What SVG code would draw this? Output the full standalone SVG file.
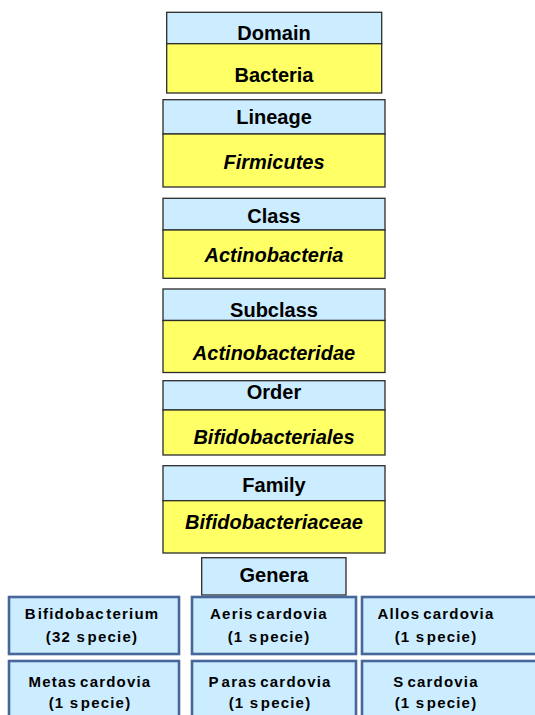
<svg xmlns="http://www.w3.org/2000/svg" width="535" height="715" viewBox="0 0 535 715">
<style>
.hd{fill:#CCECFF;stroke:#2b2b2b;stroke-width:1.3}
.bd{fill:#FFFF66;stroke:#2b2b2b;stroke-width:1.3}
.gn{fill:#CCECFF;stroke:#47679A;stroke-width:2.6}
.t{font-family:"Liberation Sans",Arial,sans-serif;font-weight:bold;font-size:20px;fill:#000;text-anchor:middle}
.i{font-style:italic}
.s{font-family:"Liberation Sans",Arial,sans-serif;font-weight:bold;font-size:15px;letter-spacing:1.2px;fill:#000;text-anchor:middle}
</style>
<rect width="535" height="715" fill="#fff"/>
<g id="domain">
<rect class="hd" x="166.7" y="12.3" width="215" height="31.4"/>
<rect class="bd" x="166.7" y="43.7" width="215" height="49.3"/>
<text class="t" x="274" y="40">Domain</text>
<text class="t" x="274" y="82">Bacteria</text>
</g>
<g id="lineage">
<rect class="hd" x="163" y="99.7" width="222" height="34.3"/>
<rect class="bd" x="163" y="134" width="222" height="53"/>
<text class="t" x="274" y="124">Lineage</text>
<text class="t i" x="274" y="169">Firmicutes</text>
</g>
<g id="class">
<rect class="hd" x="163" y="198.3" width="222" height="31.7"/>
<rect class="bd" x="163" y="230" width="222" height="48.3"/>
<text class="t" x="274" y="222.5">Class</text>
<text class="t i" x="274" y="261.5">Actinobacteria</text>
</g>
<g id="subclass">
<rect class="hd" x="163" y="289" width="222" height="31.5"/>
<rect class="bd" x="163" y="320.5" width="222" height="52"/>
<text class="t" x="274" y="317">Subclass</text>
<text class="t i" x="274" y="360">Actinobacteridae</text>
</g>
<g id="order">
<rect class="hd" x="163" y="380.7" width="222" height="29.3"/>
<rect class="bd" x="163" y="410" width="222" height="45"/>
<text class="t" x="274" y="399">Order</text>
<text class="t i" x="274" y="444">Bifidobacteriales</text>
</g>
<g id="family">
<rect class="hd" x="163" y="465.7" width="222" height="35"/>
<rect class="bd" x="163" y="500.7" width="222" height="52.3"/>
<text class="t" x="274" y="492">Family</text>
<text class="t i" x="274" y="529">Bifidobacteriaceae</text>
</g>
<g id="genera">
<rect class="hd" x="201.7" y="557.7" width="144.3" height="37.3"/>
<text class="t" x="274" y="581.5">Genera</text>
</g>
<g id="bifidobacterium">
<rect class="gn" x="9" y="597" width="170" height="57"/>
<text class="s" x="92" y="619">B<tspan dx="1">ifidobac</tspan><tspan dx="1.5">terium</tspan></text>
<text class="s" x="92" y="642">(32 s<tspan dx="1.5">pecie)</tspan></text>
</g>
<g id="aeriscardovia">
<rect class="gn" x="192" y="597" width="164" height="57"/>
<text class="s" x="269" y="619">Aeris<tspan dx="3">cardovia</tspan></text>
<text class="s" x="269" y="642">(1 s<tspan dx="1.5">pecie)</tspan></text>
</g>
<g id="alloscardovia">
<rect class="gn" x="362" y="597" width="180" height="57"/>
<text class="s" x="436" y="619">Allos<tspan dx="3">cardovia</tspan></text>
<text class="s" x="436" y="642">(1 s<tspan dx="1.5">pecie)</tspan></text>
</g>
<g id="metascardovia">
<rect class="gn" x="9" y="661" width="170" height="60"/>
<text class="s" x="90" y="687">Metas<tspan dx="3">cardovia</tspan></text>
<text class="s" x="90" y="708">(1 s<tspan dx="1.5">pecie)</tspan></text>
</g>
<g id="parascardovia">
<rect class="gn" x="192" y="661" width="164" height="60"/>
<text class="s" x="270" y="687">P<tspan dx="2">aras</tspan><tspan dx="3">cardovia</tspan></text>
<text class="s" x="270" y="708">(1 s<tspan dx="1.5">pecie)</tspan></text>
</g>
<g id="scardovia">
<rect class="gn" x="362" y="661" width="180" height="60"/>
<text class="s" x="436" y="687">S<tspan dx="3">cardovia</tspan></text>
<text class="s" x="436" y="708">(1 s<tspan dx="1.5">pecie)</tspan></text>
</g>
<g id="connectors"></g>
</svg>
